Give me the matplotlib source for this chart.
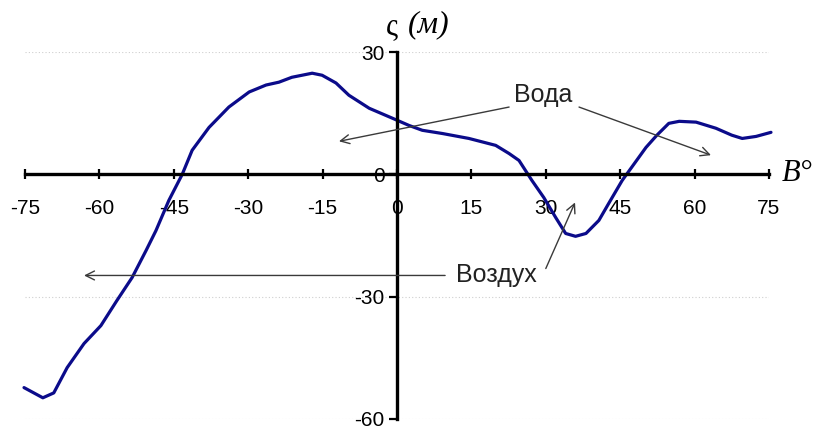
import matplotlib.pyplot as plt

plt.rcParams["axes.unicode_minus"] = False

# latitude (deg) and surface deviation (m)
lat = [-75.2, -71.4, -69.2, -66.5, -63.1, -59.7, -56.5, -53.4, -50.6, -48.6,
       -46.0, -43.3, -41.3, -37.9, -33.9, -29.8, -26.4, -23.8, -21.2, -17.1,
       -15.1, -12.3, -9.7, -5.6, -1.0, 2.4, 5.1, 9.2, 14.5, 19.9,
       22.6, 24.6, 27.2, 29.6, 32.0, 34.0, 36.0, 38.1, 40.7, 42.7,
       45.4, 50.2, 52.4, 54.8, 56.9, 60.3, 64.3, 67.5, 69.6, 72.4, 75.4]
zeta = [-52.3, -54.8, -53.6, -47.4, -41.5, -37.1, -31.0, -25.3, -18.7, -13.8,
        -6.4, 0.0, 5.9, 11.5, 16.5, 20.2, 21.9, 22.6, 23.8, 24.8,
        24.3, 22.4, 19.4, 16.2, 13.8, 12.0, 10.8, 10.0, 8.8, 7.1,
        5.1, 3.4, -1.5, -5.7, -10.6, -14.5, -15.2, -14.5, -11.3, -7.1,
        -1.5, 6.6, 9.6, 12.5, 13.0, 12.8, 11.3, 9.6, 8.8, 9.3, 10.3]

xticks = list(range(-75, 76, 15))
yticks = [-60, -30, 0, 30]

# labels and where their arrows point
water_label = "Вода"
water_pos = (29.5, 19.5)
water_arrows = [((22.6, 16.5), (-11.7, 8.1)), ((36.7, 16.5), (63.3, 4.7))]
air_label = "Воздух"
air_pos = (20.0, -24.8)
air_arrows = [((9.7, -24.8), (-63.1, -24.8)), ((30.0, -23.1), (35.9, -6.9))]

fig = plt.figure(figsize=(8.16, 4.26), dpi=100)
ax = fig.add_axes([25 / 816, 1 - 419 / 426, 744 / 816, 367 / 426])

ax.set_xlim(-75, 75)
ax.set_ylim(-60, 30)

ax.spines["left"].set_position("zero")
ax.spines["bottom"].set_position("zero")
ax.spines["top"].set_visible(False)
ax.spines["right"].set_visible(False)
for s in ("left", "bottom"):
    ax.spines[s].set_linewidth(2.4)
    ax.spines[s].set_zorder(4)

ax.set_xticks(xticks)
ax.set_yticks(yticks)
ax.tick_params(axis="x", direction="inout", length=7, width=1.6, pad=14,
               labelsize=15)
ax.tick_params(axis="y", direction="out", length=6, width=1.6, pad=3,
               labelsize=15)
for lab in ax.get_xticklabels() + ax.get_yticklabels():
    lab.set_fontfamily("Liberation Sans")

ax.grid(axis="y", linestyle=(0, (1, 2)), color="#cfcfcf", lw=0.8)
ax.set_axisbelow(True)

ax.plot(lat, zeta, color="#0b0b8a", lw=2.3, zorder=3, clip_on=False,
        solid_joinstyle="round", solid_capstyle="round")

arrow_kw = dict(arrowstyle="->", color="#3a3a3a", lw=1.0, mutation_scale=16,
                shrinkA=0, shrinkB=0)
for start, tip in water_arrows + air_arrows:
    ax.annotate("", xy=tip, xytext=start, arrowprops=arrow_kw, zorder=5)

ax.text(*water_pos, water_label, ha="center", va="center", fontsize=18,
        family="Liberation Sans", color="#222222")
ax.text(*air_pos, air_label, ha="center", va="center", fontsize=18,
        family="Liberation Sans", color="#222222")

# axis names
ax.text(-2.2, 36.3, "ς", ha="left", va="center", fontsize=22,
        family="Liberation Serif", clip_on=False)
ax.text(2.2, 36.8, "(м)", ha="left", va="center", fontsize=23,
        family="Liberation Serif", style="italic", clip_on=False)
ax.text(77.6, 0.3, "B°", ha="left", va="center", fontsize=22,
        family="Liberation Serif", style="italic", clip_on=False)

fig.savefig("out.png", dpi=100)
